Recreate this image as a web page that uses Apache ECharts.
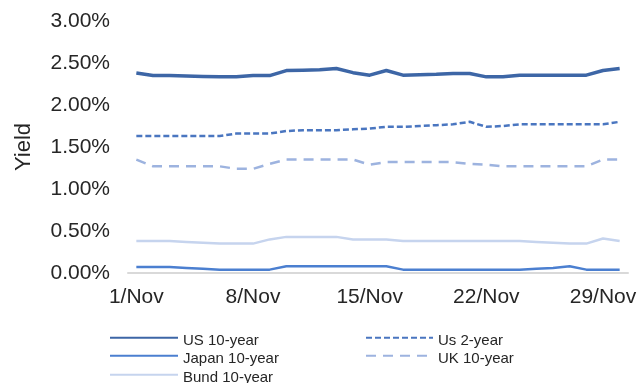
<!DOCTYPE html>
<html>
<head>
<meta charset="utf-8">
<script src="https://cdn.jsdelivr.net/npm/echarts@6/dist/echarts.min.js"></script>
<style>
  html, body { margin: 0; padding: 0; background: #fff; }
  #chart { width: 641px; height: 383px; }
</style>
</head>
<body>
<div id="chart"></div>
<script>
// Daily government bond yields, November (percent)
const days = [
  '1/Nov','2/Nov','3/Nov','4/Nov','5/Nov','6/Nov','7/Nov','8/Nov','9/Nov','10/Nov',
  '11/Nov','12/Nov','13/Nov','14/Nov','15/Nov','16/Nov','17/Nov','18/Nov','19/Nov','20/Nov',
  '21/Nov','22/Nov','23/Nov','24/Nov','25/Nov','26/Nov','27/Nov','28/Nov','29/Nov','30/Nov'
];
const us10 = [2.38,2.35,2.35,2.345,2.34,2.335,2.335,2.35,2.35,2.41,2.415,2.42,2.435,2.385,2.355,
              2.41,2.355,2.36,2.365,2.375,2.375,2.335,2.335,2.355,2.355,2.355,2.355,2.355,2.41,2.435];
const us2 = [1.63,1.63,1.63,1.63,1.63,1.63,1.66,1.66,1.66,1.69,1.70,1.70,1.70,1.71,1.72,
             1.74,1.74,1.75,1.76,1.77,1.80,1.74,1.75,1.77,1.77,1.77,1.77,1.77,1.77,1.80];
const japan10 = [0.07,0.07,0.07,0.06,0.05,0.04,0.04,0.04,0.04,0.08,0.08,0.08,0.08,0.08,0.08,
                 0.08,0.04,0.04,0.04,0.04,0.04,0.04,0.04,0.04,0.05,0.06,0.08,0.04,0.04,0.04];
const uk10 = [1.35,1.27,1.27,1.27,1.27,1.27,1.24,1.24,1.30,1.35,1.35,1.35,1.35,1.35,1.29,
              1.32,1.32,1.32,1.32,1.32,1.30,1.29,1.27,1.27,1.27,1.27,1.27,1.27,1.35,1.35];
const bund10 = [0.38,0.38,0.38,0.37,0.36,0.35,0.35,0.35,0.40,0.43,0.43,0.43,0.43,0.40,0.40,
                0.40,0.38,0.38,0.38,0.38,0.38,0.38,0.38,0.38,0.37,0.36,0.35,0.35,0.41,0.38];

const FONT = '"Liberation Sans", Arial, Helvetica, sans-serif';

const seriesDefs = [
  { name: 'US 10-year',    data: us10,    color: '#3d66a6', width: 3.5, type: 'solid' },
  { name: 'Us 2-year',     data: us2,     color: '#4a76c0', width: 2.5, type: [6, 3] },
  { name: 'Japan 10-year', data: japan10, color: '#4b7fd0', width: 2.5, type: 'solid' },
  { name: 'UK 10-year',    data: uk10,    color: '#9db3df', width: 2.5, type: [10, 7] },
  { name: 'Bund 10-year',  data: bund10,  color: '#c6d4ee', width: 2.5, type: 'solid' }
];

// one legend block per entry, laid out in two columns
const legendSlots = [
  { left: 109, top: 333, w: 68 },
  { left: 365, top: 333, w: 67 },
  { left: 109, top: 351, w: 68 },
  { left: 365, top: 351, w: 67 },
  { left: 109, top: 370, w: 68 }
];

const chart = echarts.init(document.getElementById('chart'), null, { renderer: 'canvas' });
chart.setOption({
  animation: false,
  backgroundColor: '#ffffff',
  textStyle: { fontFamily: FONT },
  grid: { left: 128, right: 13, top: 21, bottom: 110, containLabel: false },
  legend: seriesDefs.map((s, i) => ({
    data: [s.name],
    left: legendSlots[i].left,
    top: legendSlots[i].top,
    padding: 0,
    itemWidth: legendSlots[i].w,
    itemHeight: 12,
    itemStyle: { opacity: 0 },
    formatter: '{t|{name}}',
    textStyle: {
      fontFamily: FONT, fontSize: 15, color: '#262626',
      rich: { t: { fontFamily: FONT, fontSize: 15, color: '#262626', padding: [6, 0, 0, 0] } }
    },
    selectedMode: false
  })),
  xAxis: {
    type: 'category',
    data: days,
    boundaryGap: true,
    axisLine: { show: true, lineStyle: { color: '#d9d9d9', width: 2 } },
    axisTick: { show: false },
    axisLabel: {
      interval: 6,
      margin: 14,
      fontSize: 21,
      fontFamily: FONT,
      color: '#262626'
    },
    splitLine: { show: false }
  },
  yAxis: {
    type: 'value',
    min: 0,
    max: 3,
    interval: 0.5,
    name: 'Yield',
    nameLocation: 'middle',
    nameRotate: 90,
    nameGap: 93,
    nameTextStyle: { fontSize: 22, fontFamily: FONT, color: '#262626' },
    axisLine: { show: false },
    axisTick: { show: false },
    splitLine: { show: false },
    axisLabel: {
      margin: 18,
      fontSize: 21,
      fontFamily: FONT,
      color: '#262626',
      formatter: v => v.toFixed(2) + '%'
    }
  },
  series: seriesDefs.map(s => ({
    name: s.name,
    type: 'line',
    data: s.data,
    symbol: 'none',
    color: s.color,
    lineStyle: { color: s.color, width: s.width, type: s.type, cap: 'butt', join: 'round' }
  })).reverse()
});
</script>
</body>
</html>
